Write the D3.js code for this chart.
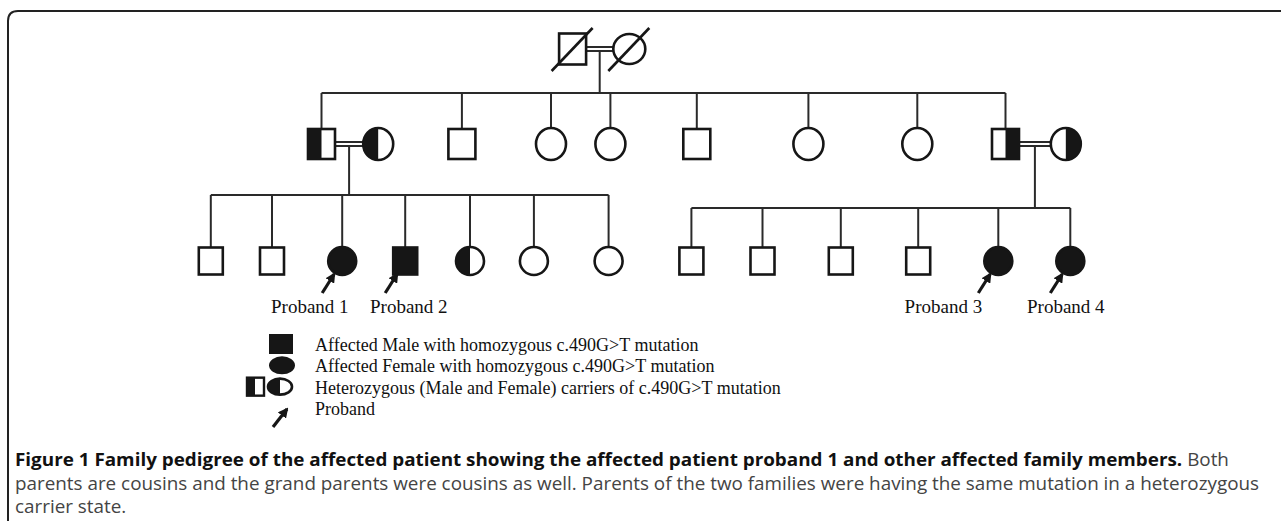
<!DOCTYPE html>
<html>
<head>
<meta charset="utf-8">
<script src="https://cdn.jsdelivr.net/npm/d3@7"></script>
<style>
body{margin:0;background:#fff;overflow:hidden;}
</style>
</head>
<body>
<div id="chart"></div>
<script>
// ---- data ----
// positions are in "row units" 0..100 across the pedigree
var gen1Sex = ["M","F"]
var gen1Pos = [41.4, 47.7]

var gen2Sex   = ["M","F","M","F","F","M","F","F","M","F"]
var gen2Fill  = ["left","left","none","none","none","none","none","none","right","right"]
var gen2InLaw = [0,1,0,0,0,0,0,0,0,1]
var gen2Pos   = [13.5,19.8,29.1,39.0,45.6,55.2,67.6,79.7,89.5,96.2]

// children of the left couple
var gen3aSex  = ["M","M","F","M","F","F","F"]
var gen3aFill = ["none","none","full","full","left","none","none"]
var gen3aPos  = [1.2,8.0,15.8,22.8,30.0,37.1,45.4]

// children of the right couple
var gen3bSex  = ["M","M","M","M","F","F"]
var gen3bFill = ["none","none","none","none","full","full"]
var gen3bPos  = [54.6,62.5,71.2,79.8,88.7,96.7]

var probandLabels = ["Proband 1","Proband 2","Proband 3","Proband 4"]
var probandPos    = [12.2,23.2,82.6,96.2]

var legendKeys   = ["male","female","carrier","proband"]
var legendLabels = [
    "Affected Male with homozygous c.490G>T mutation",
    "Affected Female with homozygous c.490G>T mutation",
    "Heterozygous (Male and Female) carriers of c.490G>T mutation",
    "Proband"
]

var captionBold = "Figure 1 Family pedigree of the affected patient showing the affected patient proband 1 and other affected family members."
var captionLines = [
    " Both",
    "parents are cousins and the grand parents were cousins as well. Parents of the two families were having the same mutation in a heterozygous",
    "carrier state."
]

// ---- layout ----
var W = 1281, H = 521
var ink = "#161616"
var x = d3.scaleLinear().domain([0,100]).range([200,1100])
var yGen = d3.scaleOrdinal().domain(["I","II","III"]).range([49,144,261])
var sizes = {
    I:   {w:27, h:31, rx:16, ry:15},
    II:  {w:27, h:30, rx:15, ry:16},
    III: {w:24, h:27, rx:14, ry:14}
}

var svg = d3.select("#chart")
    .append("svg")
    .attr("width",W)
    .attr("height",H)
    .style("font-family","'Liberation Serif','Times New Roman',serif")

// frame, runs off the right and bottom edge
svg.append("path")
    .attr("d","M8,540 V21 Q8,11 18,11 H1300")
    .attr("fill","none")
    .attr("stroke","#222")
    .attr("stroke-width",2)

var lines = svg.append("g").attr("stroke","#2a2a2a").attr("stroke-width",2).attr("fill","none")
var people = svg.append("g")

// half fill path for ellipse
var halfEllipse = function(cx,cy,rx,ry,side){
    var sweep = side=="left" ? 0 : 1
    return "M"+cx+","+(cy-ry)+" A"+rx+","+ry+" 0 0,"+sweep+" "+cx+","+(cy+ry)+" Z"
}

// one pedigree symbol
var drawMember = function(g,sex,fill,cx,cy,s){
    if(sex=="M"){
        g.append("rect")
            .attr("x",cx-s.w/2).attr("y",cy-s.h/2)
            .attr("width",s.w).attr("height",s.h)
            .attr("fill",fill=="full"?ink:"#fff")
            .attr("stroke",ink).attr("stroke-width",2.6)
        if(fill=="left"||fill=="right"){
            g.append("rect")
                .attr("x",fill=="left"?cx-s.w/2:cx)
                .attr("y",cy-s.h/2)
                .attr("width",s.w/2).attr("height",s.h)
                .attr("fill",ink)
        }
    } else {
        g.append("ellipse")
            .attr("cx",cx).attr("cy",cy)
            .attr("rx",s.rx).attr("ry",s.ry)
            .attr("fill",fill=="full"?ink:"#fff")
            .attr("stroke",ink).attr("stroke-width",2.6)
        if(fill=="left"||fill=="right"){
            g.append("path")
                .attr("d",halfEllipse(cx,cy,s.rx,s.ry,fill))
                .attr("fill",ink)
        }
    }
}

var topOf = function(sex,cy,s){ return sex=="M" ? cy-s.h/2 : cy-s.ry }
var halfW = function(sex,s){ return sex=="M" ? s.w/2 : s.rx }

// marriage (consanguineous double line), returns descent x
var drawCouple = function(xa,sa,xb,sb,cy,s){
    var x1 = xa+halfW(sa,s), x2 = xb-halfW(sb,s)
    lines.append("line").attr("x1",x1).attr("x2",x2).attr("y1",cy-2).attr("y2",cy-2)
    lines.append("line").attr("x1",x1).attr("x2",x2).attr("y1",cy+2).attr("y2",cy+2)
    return (x1+x2)/2
}

// sibship: horizontal line, drops and descent from parents
var drawSibship = function(px,py,lineY,xs,sexes,cy,s){
    lines.append("line")
        .attr("x1",d3.min(xs.concat([px]))).attr("x2",d3.max(xs.concat([px])))
        .attr("y1",lineY).attr("y2",lineY)
    lines.append("line").attr("x1",px).attr("x2",px).attr("y1",py).attr("y2",lineY)
    xs.forEach(function(cx,i){
        lines.append("line").attr("x1",cx).attr("x2",cx)
            .attr("y1",lineY).attr("y2",topOf(sexes[i],cy,s))
    })
}

// ---- generation I ----
var s1 = sizes.I, cy1 = yGen("I")
var g1x = gen1Pos.map(function(d){return x(d)})
var d1 = drawCouple(g1x[0],"M",g1x[1],"F",cy1,s1)
gen1Sex.forEach(function(sx,i){
    drawMember(people,sx,"none",g1x[i],cy1,s1)
    // deceased slash
    people.append("line")
        .attr("x1",g1x[i]-21).attr("y1",cy1+22)
        .attr("x2",g1x[i]+20).attr("y2",cy1-21)
        .attr("stroke",ink).attr("stroke-width",2.6)
})

// ---- generation II ----
var s2 = sizes.II, cy2 = yGen("II")
var g2x = gen2Pos.map(function(d){return x(d)})
var sibX = [], sibSex = []
gen2Pos.forEach(function(d,i){
    if(!gen2InLaw[i]){ sibX.push(g2x[i]); sibSex.push(gen2Sex[i]) }
})
drawSibship(d1,cy1+2,93,sibX,sibSex,cy2,s2)
var dA = drawCouple(g2x[0],gen2Sex[0],g2x[1],gen2Sex[1],cy2,s2)
var dB = drawCouple(g2x[8],gen2Sex[8],g2x[9],gen2Sex[9],cy2,s2)
gen2Sex.forEach(function(sx,i){ drawMember(people,sx,gen2Fill[i],g2x[i],cy2,s2) })

// ---- generation III ----
var s3 = sizes.III, cy3 = yGen("III")
var g3a = gen3aPos.map(function(d){return x(d)})
var g3b = gen3bPos.map(function(d){return x(d)})
drawSibship(dA,cy2+2,195,g3a,gen3aSex,cy3,s3)
drawSibship(dB,cy2+2,208,g3b,gen3bSex,cy3,s3)
gen3aSex.forEach(function(sx,i){ drawMember(people,sx,gen3aFill[i],g3a[i],cy3,s3) })
gen3bSex.forEach(function(sx,i){ drawMember(people,sx,gen3bFill[i],g3b[i],cy3,s3) })

// arrow marker
svg.append("defs").append("marker")
    .attr("id","head")
    .attr("viewBox","0 0 10 10")
    .attr("refX",8).attr("refY",5)
    .attr("markerWidth",3.2).attr("markerHeight",3.2)
    .attr("orient","auto")
    .append("path").attr("d","M0,0 L10,5 L0,10 Z").attr("fill",ink)

var arrow = function(xh,yh){
    svg.append("line")
        .attr("x1",xh-12).attr("y1",yh+19)
        .attr("x2",xh).attr("y2",yh)
        .attr("stroke",ink).attr("stroke-width",3.2)
        .attr("marker-end","url(#head)")
}

// probands = affected children
var probX = []
gen3aFill.forEach(function(f,i){ if(f=="full") probX.push(g3a[i]) })
gen3bFill.forEach(function(f,i){ if(f=="full") probX.push(g3b[i]) })
probX.forEach(function(cx){ arrow(cx-8,cy3+13) })

svg.append("g").selectAll("text")
    .data(probandLabels)
    .enter()
    .append("text")
    .attr("x",function(d,i){return x(probandPos[i])})
    .attr("y",313)
    .attr("text-anchor","middle")
    .attr("font-size",19)
    .attr("fill","#111")
    .text(function(d){return d})

// ---- legend ----
var legY = d3.scalePoint().domain(legendKeys).range([344,408])
var leg = svg.append("g")
legendKeys.forEach(function(k){
    var cy = legY(k)
    if(k=="male"){
        leg.append("rect").attr("x",269).attr("y",cy-10).attr("width",24).attr("height",20).attr("fill",ink)
    } else if(k=="female"){
        leg.append("ellipse").attr("cx",282).attr("cy",cy).attr("rx",13).attr("ry",9).attr("fill",ink)
    } else if(k=="carrier"){
        leg.append("rect").attr("x",247).attr("y",cy-9).attr("width",17).attr("height",18)
            .attr("fill","#fff").attr("stroke",ink).attr("stroke-width",2.4)
        leg.append("rect").attr("x",247).attr("y",cy-9).attr("width",8).attr("height",18).attr("fill",ink)
        leg.append("ellipse").attr("cx",280).attr("cy",cy).attr("rx",12).attr("ry",8)
            .attr("fill","#fff").attr("stroke",ink).attr("stroke-width",2.6)
        leg.append("path").attr("d",halfEllipse(280,cy,12,8,"left")).attr("fill",ink)
    } else {
        svg.append("line")
            .attr("x1",273).attr("y1",cy+19)
            .attr("x2",287).attr("y2",cy+1)
            .attr("stroke",ink).attr("stroke-width",3.2)
            .attr("marker-end","url(#head)")
    }
})
leg.selectAll("text")
    .data(legendLabels)
    .enter()
    .append("text")
    .attr("x",315)
    .attr("y",function(d,i){return legY(legendKeys[i])+7})
    .attr("font-size",18)
    .attr("fill","#111")
    .text(function(d){return d})

// ---- caption ----
// narrow sans in the figure: set size, then squeeze horizontally to the measured width
var capX = 15, capSize = 18
var capY = [466,490,513]
var cap = svg.append("g")
    .style("font-family","'Open Sans','Noto Sans',sans-serif")
    .attr("font-size",capSize)
var t0 = cap.append("text").attr("x",0).attr("y",capY[0])
t0.append("tspan").attr("font-weight","bold").attr("fill","#111").text(captionBold)
t0.append("tspan").attr("fill","#444").text(captionLines[0])
var t1 = cap.append("text").attr("x",0).attr("y",capY[1]).attr("fill","#444").text(captionLines[1])
cap.append("text").attr("x",0).attr("y",capY[2]).attr("fill","#444").text(captionLines[2])

var len = t1.node().getComputedTextLength()
var k = 1245/len
cap.attr("transform","translate("+capX+",0) scale("+k+",1)")
</script>
</body>
</html>
